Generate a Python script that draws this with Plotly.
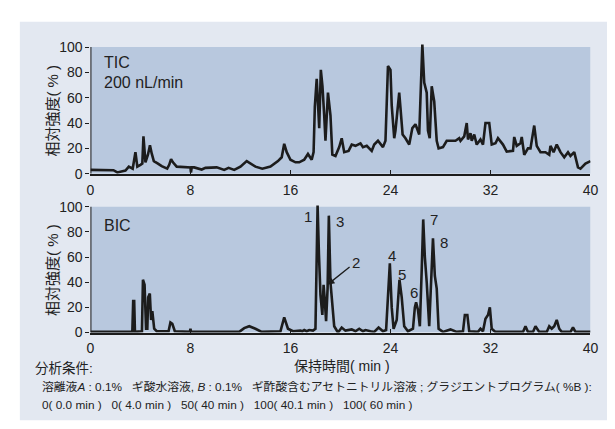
import plotly.graph_objects as go

# ---------------- data ----------------
tic_time = [0, 1.0, 1.84, 2.15, 2.5, 2.8, 3.07, 3.3, 3.38, 3.6, 3.75, 4.0, 4.15, 4.24, 4.4, 4.6, 4.76,
            4.9, 5.07, 5.4, 5.7, 6.14, 6.3, 6.45, 6.6, 6.9, 7.5, 8.0, 8.04, 8.1, 8.3, 8.9, 9.2, 10.1,
            10.7, 11.05, 11.5, 12.0, 12.5, 13.2, 13.75, 14.4, 15.0, 15.3, 15.5, 15.7, 16.0, 16.4, 16.7,
            17.1, 17.4, 17.7, 17.85, 17.95, 18.1, 18.2, 18.3, 18.43, 18.56, 18.7, 18.8, 19.0, 19.2,
            19.35, 19.6, 19.9, 20.1, 20.3, 20.65, 20.9, 21.2, 21.6, 21.8, 22.1, 22.5, 22.7, 23.0, 23.4,
            23.6, 23.8, 24.0, 24.1, 24.3, 24.4, 24.6, 24.7, 24.8, 24.97, 25.2, 25.5, 25.75, 26.0, 26.3,
            26.4, 26.55, 26.7, 26.9, 27.0, 27.14, 27.3, 27.5, 27.7, 27.85, 28.2, 28.5, 29.2, 29.5, 29.6,
            29.9, 30.1, 30.2, 30.4, 30.5, 30.7, 30.9, 31.2, 31.4, 31.6, 31.9, 32.1, 32.4, 32.6, 33.0,
            33.3, 33.8, 33.9, 34.1, 34.4, 34.5, 34.7, 35.0, 35.2, 35.5, 35.7, 36.0, 36.4, 36.7, 36.8,
            37.05, 37.3, 37.6, 37.9, 38.2, 38.4, 38.7, 39.0, 39.2, 39.6, 40]
tic_value = [3, 3, 2.8, 1, 2, 2.5, 5.6, 4, 4, 17, 5.6, 7, 8, 29.5, 9, 15, 22.5,
             16, 10, 8, 6, 4, 7, 11.5, 9, 5.6, 5, 5, 1, 5, 5, 3.3, 4.6, 5,
             3, 4.6, 3, 5.6, 10, 5.6, 4, 5.6, 10, 13, 23.6, 17, 11, 9, 9,
             11, 15.6, 11, 17, 53, 75, 53, 36, 82, 69, 46, 26, 64, 46,
             15, 14, 21, 28, 17, 18, 23, 22, 24, 21, 22, 18, 23, 26, 21,
             26, 85, 82, 54, 28, 34, 52, 64, 52, 31, 28, 23, 36, 39, 31,
             67, 102, 72, 64, 34, 28, 69, 57, 26, 20, 21, 26, 26, 28, 26,
             29.5, 40, 27, 32, 26, 31, 23, 27, 23, 40, 40, 23, 24, 28, 23,
             17.5, 18, 29, 22, 24, 29, 15, 20, 20, 38, 22, 17, 17, 15, 22,
             17, 23, 17, 13, 17, 14, 17, 5, 4, 8, 10]

bic_time = [0, 3.35, 3.42, 3.5, 3.56, 4.12, 4.2, 4.33, 4.45, 4.55,
            4.62, 4.75, 4.85, 4.95, 5.1, 5.3, 6.25, 6.4, 6.55, 6.75,
            7.95, 8.0, 8.05, 11.9, 12.3, 12.7, 13.2, 13.7, 15.2, 15.5,
            15.8, 16.2, 16.8, 16.95, 17.1, 17.3, 17.5, 17.8, 18.0, 18.08,
            18.17, 18.28, 18.4, 18.55, 18.65, 18.75, 18.85, 18.97, 19.07, 19.2,
            19.35, 19.5, 19.8, 20.1, 20.4, 20.9, 21.2, 21.5, 21.8, 22.0,
            22.4, 22.7, 23.05, 23.4, 23.65, 23.82, 23.95, 24.1, 24.25, 24.5,
            24.72, 24.9, 25.1, 25.4, 25.8, 25.95, 26.05, 26.2, 26.35, 26.5,
            26.62, 26.75, 26.9, 27.1, 27.25, 27.4, 27.55, 27.7, 27.85, 28.2,
            28.8, 29.3, 29.8, 29.95, 30.15, 30.3, 31.0, 31.2, 31.4, 31.6,
            31.8, 31.95, 32.1, 32.4, 34.6, 34.8, 35.0, 35.4, 35.6, 35.9,
            36.5, 36.7, 36.9, 37.1, 37.3, 37.5, 37.7, 38.4, 38.6, 38.8,
            40]
bic_value = [0.5, 0.5, 25, 25, 0.5, 1, 42, 38, 3, 3,
             28, 31, 10, 17, 3, 1, 1, 8, 7, 1,
             0.5, 3, 0.5, 0.5, 3.5, 5, 3, 0.5, 1, 12,
             3, 1, 1.5, 1, 2, 1, 2, 1.5, 3, 60,
             101, 62, 30, 14, 38, 25, 9, 35, 93, 40,
             25, 5, 0, 4, 1.5, 2.5, 1, 3, 1, 2,
             1, 0.5, 4, 1, 2, 30, 55, 20, 3, 10,
             42, 28, 5, 1, 3, 20, 24, 18, 5, 50,
             90, 60, 40, 5, 45, 75, 45, 35, 3, 0.5,
             2.5, 0.5, 1, 14, 14, 1, 0.5, 3, 1, 11,
             14, 20, 3, 0.5, 0.5, 5, 0.5, 0.5, 5, 0.5,
             0.5, 5, 3, 5, 10, 3, 0.5, 0.5, 4, 0.5,
             0.5]

x_ticks = [0, 8, 16, 24, 32, 40]
y_ticks = [0, 20, 40, 60, 80, 100]

peak_labels = ["1", "3", "4", "5", "6", "7", "8"]
peak_label_x = [17.4, 20.0, 24.1, 24.9, 25.9, 27.5, 28.3]
peak_label_y = [92, 88, 61, 46.5, 31.5, 90, 71.5]

# ---------------- layout helpers ----------------
W, H = 615, 429
FONT = "Liberation Sans, Noto Sans CJK JP, sans-serif"
OUTER = "#e3e8f1"
PLOT = "#b8c8de"
INK = "#1c1c1c"
TXT = "#222"


def px(x):
    return x / W


def py(y):
    return 1 - y / H


YMAX = 104
top_dom = [py(167), py(167 - YMAX * 1.3)]
bot_dom = [py(330), py(330 - YMAX * 1.29)]
x_dom = [px(80), px(590)]

fig = go.Figure()
fig.add_trace(go.Scatter(x=tic_time, y=tic_value, mode="lines",
                         line=dict(color=INK, width=2.6), xaxis="x", yaxis="y",
                         showlegend=False, hoverinfo="skip"))
fig.add_trace(go.Scatter(x=bic_time, y=bic_value, mode="lines",
                         line=dict(color=INK, width=2.6), xaxis="x2", yaxis="y2",
                         showlegend=False, hoverinfo="skip"))

axis_common = dict(
    range=[0, 40], tickvals=x_ticks, ticks="inside", ticklen=4, tickwidth=1.2,
    tickcolor=INK, showline=True, linecolor=INK, linewidth=2, showgrid=False,
    zeroline=False, tickfont=dict(family=FONT, size=14, color=TXT),
    ticklabelstandoff=2, domain=x_dom,
)
yaxis_common = dict(
    range=[0, YMAX], tickvals=y_ticks, ticks="outside", ticklen=4, tickwidth=1.2,
    tickcolor=INK, showline=False, showgrid=False, zeroline=False,
    tickfont=dict(family=FONT, size=14, color=TXT),
)

fig.update_layout(
    width=W, height=H, margin=dict(l=0, r=0, t=0, b=0),
    paper_bgcolor="white", plot_bgcolor="rgba(0,0,0,0)",
    xaxis=dict(anchor="y", **axis_common),
    yaxis=dict(domain=top_dom, anchor="x", **yaxis_common),
    xaxis2=dict(anchor="y2", **axis_common),
    yaxis2=dict(domain=bot_dom, anchor="x2", **yaxis_common),
    font=dict(family=FONT, color=TXT),
)

shapes = [
    dict(type="rect", xref="paper", yref="paper", x0=px(8), x1=1, y0=py(420), y1=py(11),
         fillcolor=OUTER, line=dict(width=0), layer="below"),
    dict(type="rect", xref="x", yref="y", x0=0, x1=40, y0=0, y1=100,
         fillcolor=PLOT, line=dict(width=0), layer="below"),
    dict(type="rect", xref="x2", yref="y2", x0=0, x1=40, y0=0, y1=100,
         fillcolor=PLOT, line=dict(width=0), layer="below"),
    dict(type="line", xref="x", yref="y", x0=0, x1=0, y0=0, y1=100,
         line=dict(color=INK, width=2)),
    dict(type="line", xref="x2", yref="y2", x0=0, x1=0, y0=0, y1=100,
         line=dict(color=INK, width=2)),
]
fig.update_layout(shapes=shapes)

ann = []
# y-axis titles
for yc in (102, 265.5):
    ann.append(dict(text="相対強度( % )", x=px(41), y=py(yc), xref="paper", yref="paper",
                    textangle=-90, showarrow=False, font=dict(size=15, family=FONT, color=TXT),
                    xanchor="center", yanchor="middle"))
# in-panel labels
ann.append(dict(text="TIC", x=0.9, y=88, xref="x", yref="y", showarrow=False,
                xanchor="left", yanchor="middle", font=dict(size=16, family=FONT, color=TXT)))
ann.append(dict(text="200 nL/min", x=0.9, y=72, xref="x", yref="y", showarrow=False,
                xanchor="left", yanchor="middle", font=dict(size=16, family=FONT, color=TXT)))
ann.append(dict(text="BIC", x=0.9, y=85, xref="x2", yref="y2", showarrow=False,
                xanchor="left", yanchor="middle", font=dict(size=16, family=FONT, color=TXT)))
for t, xx, yy in zip(peak_labels, peak_label_x, peak_label_y):
    ann.append(dict(text=t, x=xx, y=yy, xref="x2", yref="y2", showarrow=False,
                    xanchor="center", yanchor="middle", font=dict(size=15, family=FONT, color=TXT)))
# peak 2 with arrow
ann.append(dict(text="", x=18.95, y=38, xref="x2", yref="y2", ax=20.85, ay=53,
                axref="x2", ayref="y2", showarrow=True, arrowhead=2, arrowsize=1.1,
                arrowwidth=1.3, arrowcolor=INK))
ann.append(dict(text="2", x=21.25, y=56, xref="x2", yref="y2", showarrow=False,
                xanchor="center", yanchor="middle", font=dict(size=15, family=FONT, color=TXT)))
# x title and notes
ann.append(dict(text="保持時間( min )", x=px(337), y=py(364), xref="paper", yref="paper",
                showarrow=False, xanchor="center", yanchor="middle",
                font=dict(size=14, family=FONT, color=TXT)))
ann.append(dict(text="分析条件:", x=px(21), y=py(366), xref="paper", yref="paper",
                showarrow=False, xanchor="left", yanchor="middle",
                font=dict(size=13.5, family=FONT, color=TXT)))
ann.append(dict(text="溶離液<i>A</i> : 0.1%   ギ酸水溶液, <i>B</i> : 0.1%   ギ酢酸含むアセトニトリル溶液 ; グラジエントプログラム( %B ):",
                x=px(29), y=py(386), xref="paper", yref="paper",
                showarrow=False, xanchor="left", yanchor="middle",
                font=dict(size=11.8, family=FONT, color=TXT)))
ann.append(dict(text="0( 0.0 min )   0( 4.0 min )   50( 40 min )   100( 40.1 min )   100( 60 min )",
                x=px(29), y=py(404), xref="paper", yref="paper",
                showarrow=False, xanchor="left", yanchor="middle",
                font=dict(size=11.8, family=FONT, color=TXT)))
fig.update_layout(annotations=ann)

fig.write_html("out.html")
